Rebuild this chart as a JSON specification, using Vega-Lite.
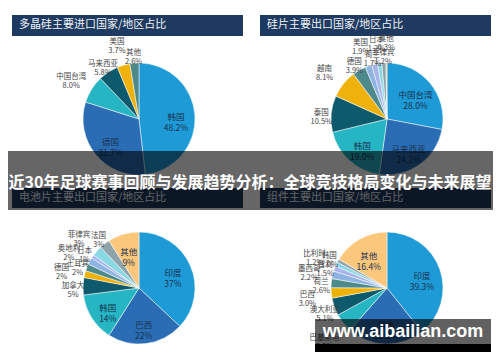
{
  "$schema": "https://vega.github.io/schema/vega-lite/v6.json",
  "width": 500,
  "height": 362,
  "autosize": {"type": "fit", "contains": "padding"},
  "padding": 0,
  "background": "#ffffff",
  "config": {"view": {"stroke": null}, "font": "Noto Sans CJK SC", "axis": {"disable": true}},
  "datasets": {
    "slices": [
      {"chart": "多晶硅", "col": "左", "row": "上", "idx": 1, "name": "韩国", "share": 48.2},
      {"chart": "多晶硅", "col": "左", "row": "上", "idx": 2, "name": "德国", "share": 31.7},
      {"chart": "多晶硅", "col": "左", "row": "上", "idx": 3, "name": "中国台湾", "share": 8.0},
      {"chart": "多晶硅", "col": "左", "row": "上", "idx": 4, "name": "马来西亚", "share": 5.8},
      {"chart": "多晶硅", "col": "左", "row": "上", "idx": 5, "name": "美国", "share": 3.7},
      {"chart": "多晶硅", "col": "左", "row": "上", "idx": 6, "name": "其他", "share": 2.6},
      {"chart": "硅片", "col": "右", "row": "上", "idx": 1, "name": "中国台湾", "share": 28.0},
      {"chart": "硅片", "col": "右", "row": "上", "idx": 2, "name": "马来西亚", "share": 24.2},
      {"chart": "硅片", "col": "右", "row": "上", "idx": 3, "name": "韩国", "share": 19.0},
      {"chart": "硅片", "col": "右", "row": "上", "idx": 4, "name": "泰国", "share": 10.5},
      {"chart": "硅片", "col": "右", "row": "上", "idx": 5, "name": "越南", "share": 8.1},
      {"chart": "硅片", "col": "右", "row": "上", "idx": 6, "name": "德国", "share": 3.9},
      {"chart": "硅片", "col": "右", "row": "上", "idx": 7, "name": "美国", "share": 1.9},
      {"chart": "硅片", "col": "右", "row": "上", "idx": 8, "name": "荷兰", "share": 1.7},
      {"chart": "硅片", "col": "右", "row": "上", "idx": 9, "name": "日本", "share": 1.2},
      {"chart": "硅片", "col": "右", "row": "上", "idx": 10, "name": "菲律宾", "share": 1.2},
      {"chart": "硅片", "col": "右", "row": "上", "idx": 11, "name": "其他", "share": 0.3},
      {"chart": "电池片", "col": "左", "row": "下", "idx": 1, "name": "印度", "share": 37},
      {"chart": "电池片", "col": "左", "row": "下", "idx": 2, "name": "巴西", "share": 22},
      {"chart": "电池片", "col": "左", "row": "下", "idx": 3, "name": "韩国", "share": 14},
      {"chart": "电池片", "col": "左", "row": "下", "idx": 4, "name": "加拿大", "share": 5},
      {"chart": "电池片", "col": "左", "row": "下", "idx": 5, "name": "德国", "share": 2},
      {"chart": "电池片", "col": "左", "row": "下", "idx": 6, "name": "土耳其", "share": 2},
      {"chart": "电池片", "col": "左", "row": "下", "idx": 7, "name": "奥地利", "share": 2},
      {"chart": "电池片", "col": "左", "row": "下", "idx": 8, "name": "日本", "share": 1},
      {"chart": "电池片", "col": "左", "row": "下", "idx": 9, "name": "菲律宾", "share": 3},
      {"chart": "电池片", "col": "左", "row": "下", "idx": 10, "name": "法国", "share": 3},
      {"chart": "电池片", "col": "左", "row": "下", "idx": 11, "name": "其他", "share": 9},
      {"chart": "组件", "col": "右", "row": "下", "idx": 1, "name": "印度", "share": 39.3},
      {"chart": "组件", "col": "右", "row": "下", "idx": 2, "name": "日本", "share": 22.2},
      {"chart": "组件", "col": "右", "row": "下", "idx": 3, "name": "巴基斯坦", "share": 5.5},
      {"chart": "组件", "col": "右", "row": "下", "idx": 4, "name": "澳大利亚", "share": 5.1},
      {"chart": "组件", "col": "右", "row": "下", "idx": 5, "name": "巴西", "share": 3.0},
      {"chart": "组件", "col": "右", "row": "下", "idx": 6, "name": "荷兰", "share": 2.6},
      {"chart": "组件", "col": "右", "row": "下", "idx": 7, "name": "墨西哥", "share": 2.2},
      {"chart": "组件", "col": "右", "row": "下", "idx": 8, "name": "智利", "share": 1.5},
      {"chart": "组件", "col": "右", "row": "下", "idx": 9, "name": "比利时", "share": 1.2},
      {"chart": "组件", "col": "右", "row": "下", "idx": 10, "name": "韩国", "share": 1.0},
      {"chart": "组件", "col": "右", "row": "下", "idx": 11, "name": "其他", "share": 16.4}
    ],
    "panels": [
      {"col": "左", "row": "上", "title": "多晶硅主要进口国家/地区占比"},
      {"col": "右", "row": "上", "title": "硅片主要出口国家/地区占比"},
      {"col": "左", "row": "下", "title": "电池片主要出口国家/地区占比"},
      {"col": "右", "row": "下", "title": "组件主要出口国家/地区占比"}
    ],
    "banner": [{"text": "近30年足球赛事回顾与发展趋势分析：全球竞技格局变化与未来展望"}],
    "site": [{"text": "www.aibailian.com"}]
  },
  "layer": [
    {
      "data": {"name": "panels"},
      "transform": [{"filter": "datum.row == '上'"}],
      "mark": {"type": "rect", "color": "#1f3a60", "xOffset": -127, "x2Offset": 104, "yOffset": -104, "y2Offset": -83},
      "encoding": {
        "x": {"field": "col", "type": "nominal", "scale": {"type": "point", "domain": ["左", "右"], "padding": 0.508, "align": 0.5516}, "axis": null},
        "x2": {"field": "col"},
        "y": {"field": "row", "type": "nominal", "scale": {"type": "point", "domain": ["上", "下"], "padding": 0.571, "align": 0.6166}, "axis": null},
        "y2": {"field": "row"}
      }
    },
    {
      "data": {"name": "panels"},
      "transform": [{"filter": "datum.row == '下'"}],
      "mark": {"type": "rect", "color": "#1f3a60", "xOffset": -127, "x2Offset": 104, "yOffset": -100, "y2Offset": -80},
      "encoding": {
        "x": {"field": "col", "type": "nominal", "scale": {"type": "point", "domain": ["左", "右"], "padding": 0.508, "align": 0.5516}, "axis": null},
        "x2": {"field": "col"},
        "y": {"field": "row", "type": "nominal", "scale": {"type": "point", "domain": ["上", "下"], "padding": 0.571, "align": 0.6166}, "axis": null},
        "y2": {"field": "row"}
      }
    },
    {
      "data": {"name": "panels"},
      "transform": [{"filter": "datum.row == '上'"}],
      "mark": {"type": "text", "align": "left", "baseline": "middle", "dx": -120, "dy": -94, "fontSize": 11, "color": "#eef2f7"},
      "encoding": {
        "x": {"field": "col", "type": "nominal", "scale": {"type": "point", "domain": ["左", "右"], "padding": 0.508, "align": 0.5516}, "axis": null},
        "y": {"field": "row", "type": "nominal", "scale": {"type": "point", "domain": ["上", "下"], "padding": 0.571, "align": 0.6166}, "axis": null},
        "text": {"field": "title"}
      }
    },
    {
      "data": {"name": "panels"},
      "transform": [{"filter": "datum.row == '下'"}],
      "mark": {"type": "text", "align": "left", "baseline": "middle", "dx": -120, "dy": -90, "fontSize": 11, "color": "#eef2f7"},
      "encoding": {
        "x": {"field": "col", "type": "nominal", "scale": {"type": "point", "domain": ["左", "右"], "padding": 0.508, "align": 0.5516}, "axis": null},
        "y": {"field": "row", "type": "nominal", "scale": {"type": "point", "domain": ["上", "下"], "padding": 0.571, "align": 0.6166}, "axis": null},
        "text": {"field": "title"}
      }
    },
    {
      "data": {"name": "slices"},
      "transform": [
        {"stack": "share", "groupby": ["chart"], "sort": [{"field": "idx", "order": "ascending"}], "as": ["s0", "s1"]},
        {"calculate": "(datum.s0 + datum.s1) / 2", "as": "mid"},
        {"calculate": "datum.idx % 2", "as": "ring"},
        {"calculate": "datum.name + '\\n' + format(datum.share, datum.chart == '电池片' ? '.0f' : '.1f') + '%'", "as": "label"}
      ],
      "layer": [
        {
          "mark": {"type": "arc", "outerRadius": 56, "stroke": "#ffffff", "strokeWidth": 0.5},
          "encoding": {
            "x": {"field": "col", "type": "nominal", "scale": {"type": "point", "domain": ["左", "右"], "padding": 0.508, "align": 0.5516}, "axis": null},
            "y": {"field": "row", "type": "nominal", "scale": {"type": "point", "domain": ["上", "下"], "padding": 0.571, "align": 0.6166}, "axis": null},
            "theta": {"field": "s0", "type": "quantitative", "scale": {"domain": [0, 100]}},
            "theta2": {"field": "s1"},
            "color": {"field": "idx", "type": "nominal", "legend": null, "scale": {"domain": [1, 2, 3, 4, 5, 6, 7, 8, 9, 10, 11], "range": ["#1e9ad6", "#2a6db5", "#25b5c3", "#0c5a6c", "#efb20c", "#4f8a8b", "#8db4e2", "#a9b4ea", "#8ad8e4", "#8fa3aa", "#fbc77c"]}}
          }
        },
        {
          "transform": [{"filter": "datum.share >= 14 || (datum.name == '其他' && datum.share >= 9)"}],
          "mark": {"type": "text", "radius": 37, "fontSize": 8.5, "color": "#18324f", "lineBreak": "\n", "lineHeight": 11},
          "encoding": {
            "x": {"field": "col", "type": "nominal", "scale": {"type": "point", "domain": ["左", "右"], "padding": 0.508, "align": 0.5516}, "axis": null},
            "y": {"field": "row", "type": "nominal", "scale": {"type": "point", "domain": ["上", "下"], "padding": 0.571, "align": 0.6166}, "axis": null},
            "theta": {"field": "mid", "type": "quantitative", "scale": {"domain": [0, 100]}},
            "text": {"field": "label"}
          }
        },
        {
          "transform": [{"filter": "!(datum.share >= 14 || (datum.name == '其他' && datum.share >= 9))"}],
          "mark": {"type": "text", "fontSize": 7.5, "color": "#444444", "lineBreak": "\n", "lineHeight": 9},
          "encoding": {
            "x": {"field": "col", "type": "nominal", "scale": {"type": "point", "domain": ["左", "右"], "padding": 0.508, "align": 0.5516}, "axis": null},
            "y": {"field": "row", "type": "nominal", "scale": {"type": "point", "domain": ["上", "下"], "padding": 0.571, "align": 0.6166}, "axis": null},
            "theta": {"field": "mid", "type": "quantitative", "scale": {"domain": [0, 100]}},
            "radius": {"field": "ring", "type": "quantitative", "scale": {"type": "linear", "domain": [0, 1], "range": [66, 80], "zero": false}, "legend": null},
            "text": {"field": "label"}
          }
        }
      ]
    },
    {
      "data": {"name": "banner"},
      "mark": {"type": "rect", "color": "#000000", "opacity": 0.6, "xOffset": -131, "x2Offset": 106, "yOffset": 32, "y2Offset": -78},
      "encoding": {
        "x": {"datum": "左", "type": "nominal", "scale": {"type": "point", "domain": ["左", "右"], "padding": 0.508, "align": 0.5516}, "axis": null},
        "x2": {"datum": "右"},
        "y": {"datum": "上", "type": "nominal", "scale": {"type": "point", "domain": ["上", "下"], "padding": 0.571, "align": 0.6166}, "axis": null},
        "y2": {"datum": "下"}
      }
    },
    {
      "data": {"name": "banner"},
      "mark": {"type": "text", "color": "#ffffff", "fontSize": 16, "fontWeight": "bold", "dy": 2},
      "encoding": {"text": {"field": "text"}}
    },
    {
      "data": {"name": "site"},
      "mark": {"type": "rect", "color": "#000000", "opacity": 0.62, "xOffset": -72, "x2Offset": 104, "yOffset": 31, "y2Offset": 56},
      "encoding": {
        "x": {"datum": "右", "type": "nominal", "scale": {"type": "point", "domain": ["左", "右"], "padding": 0.508, "align": 0.5516}, "axis": null},
        "x2": {"datum": "右"},
        "y": {"datum": "下", "type": "nominal", "scale": {"type": "point", "domain": ["上", "下"], "padding": 0.571, "align": 0.6166}, "axis": null},
        "y2": {"datum": "下"}
      }
    },
    {
      "data": {"name": "site"},
      "mark": {"type": "rect", "color": "#000000", "opacity": 1, "xOffset": -72, "x2Offset": 104, "yOffset": 56, "y2Offset": 64},
      "encoding": {
        "x": {"datum": "右", "type": "nominal", "scale": {"type": "point", "domain": ["左", "右"], "padding": 0.508, "align": 0.5516}, "axis": null},
        "x2": {"datum": "右"},
        "y": {"datum": "下", "type": "nominal", "scale": {"type": "point", "domain": ["上", "下"], "padding": 0.571, "align": 0.6166}, "axis": null},
        "y2": {"datum": "下"}
      }
    },
    {
      "data": {"name": "site"},
      "mark": {"type": "text", "color": "#ffffff", "font": "Liberation Sans", "fontSize": 18, "fontWeight": "bold", "dx": 16, "dy": 44},
      "encoding": {
        "x": {"datum": "右", "type": "nominal", "scale": {"type": "point", "domain": ["左", "右"], "padding": 0.508, "align": 0.5516}, "axis": null},
        "y": {"datum": "下", "type": "nominal", "scale": {"type": "point", "domain": ["上", "下"], "padding": 0.571, "align": 0.6166}, "axis": null},
        "text": {"field": "text"}
      }
    }
  ]
}
